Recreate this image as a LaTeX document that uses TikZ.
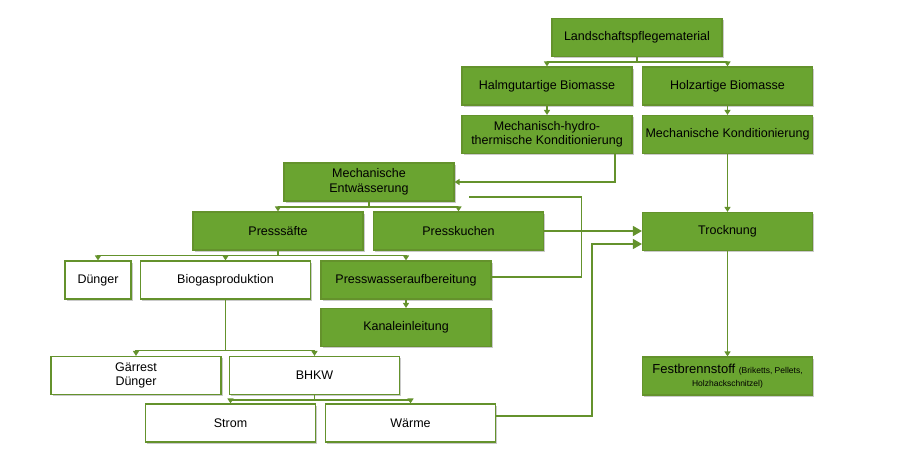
\documentclass[tikz,border=0pt]{standalone}
\usepackage{fontspec}
\setmainfont{Liberation Sans}
\usetikzlibrary{arrows.meta,shadows}
\definecolor{gfill}{RGB}{106,164,48}
\definecolor{gline}{RGB}{100,146,44}
\begin{document}
\begin{tikzpicture}[x=1pt,y=-1pt,
 box/.style={draw=gline, line width=1.1pt, minimum width=170pt, minimum height=38pt, inner sep=1pt, align=center,
   font=\fontsize{12.5}{14.5}\selectfont,
   drop shadow={shadow xshift=1.5pt,shadow yshift=-1.5pt,opacity=0.35,fill=black!60}},
 gbox/.style={box, fill=gfill},
 wbox/.style={box, fill=white},
 conn/.style={draw=gline, line width=1.2pt},
 arr/.style={conn, -{Triangle[width=6pt,length=5pt]}},
 bigarr/.style={conn, -{Triangle[width=10pt,length=9pt]}}]
\useasboundingbox (0,0) rectangle (918,450);

\node[gbox] (land) at (637,37.5) {Landschaftspflegematerial};
\node[gbox] (halm) at (547,86) {Halmgutartige Biomasse};
\node[gbox] (holz) at (727.5,86) {Holzartige Biomasse};
\node[gbox] (mhk) at (547,134.5) {Mechanisch-hydro-\\thermische Konditionierung};
\node[gbox] (mk) at (727.5,134.5) {Mechanische Konditionierung};
\node[gbox] (entw) at (369,182) {Mechanische\\Entwässerung};
\node[gbox] (saft) at (278,231) {Presssäfte};
\node[gbox] (kuchen) at (458.5,231) {Presskuchen};
\node[wbox, minimum width=66pt] (dung) at (98,280) {Dünger};
\node[wbox] (biogas) at (225.5,280) {Biogasproduktion};
\node[gbox] (pw) at (406,280) {Presswasseraufbereitung};
\node[gbox] (kanal) at (406,327.5) {Kanaleinleitung};
\node[wbox] (gaer) at (136,375.5) {Gärrest\\Dünger};
\node[wbox] (bhkw) at (314.5,375.5) {BHKW};
\node[wbox] (strom) at (230.5,423) {Strom};
\node[wbox] (waerme) at (410.5,423) {Wärme};
\node[gbox] (trock) at (727.5,231.5) {Trocknung};
\node[gbox, font=\fontsize{13}{13}\selectfont] (fest) at (727.5,376) {Festbrennstoff {\fontsize{8.5}{10}\selectfont(Briketts, Pellets,}\\{\fontsize{8.5}{10}\selectfont Holzhackschnitzel)}};

\coordinate (ret) at (469,197);

\draw[arr] (land.south) -- ++(0,5) -| (halm.north);
\draw[arr] (land.south) -- ++(0,5) -| (holz.north);
\draw[arr] (halm) -- (mhk);
\draw[arr] (holz) -- (mk);
\draw[arr] ([xshift=68pt]mhk.south) |- (entw.east);
\draw[arr] (mk) -- (trock);
\draw[arr] (entw.south) -- ++(0,5.5) -| (saft.north);
\draw[arr] (entw.south) -- ++(0,5.5) -| (kuchen.north);
\draw[arr] (saft.south) -- ++(0,5) -| (dung.north);
\draw[arr] (saft.south) -- ++(0,5) -| (biogas.north);
\draw[arr] (saft.south) -- ++(0,5) -| (pw.north);
\draw[bigarr] (kuchen.east) -- (trock.west |- kuchen.east);
\draw[conn] ([yshift=3pt]pw.east) -- ++(90,0) |- (ret);
\draw[arr] (pw) -- (kanal);
\draw[arr] (biogas.south) -- ++(0,51) -| (gaer.north);
\draw[arr] (biogas.south) -- ++(0,51) -| (bhkw.north);
\draw[arr] (bhkw.south) -- ++(0,5) -| (strom.north);
\draw[arr] (bhkw.south) -- ++(0,5) -| (waerme.north);
\draw[bigarr] ([yshift=7pt]waerme.east) -- ++(96,0) |- ([yshift=-12.5pt]trock.west);
\draw[arr] (trock) -- (fest);
\end{tikzpicture}
\end{document}
